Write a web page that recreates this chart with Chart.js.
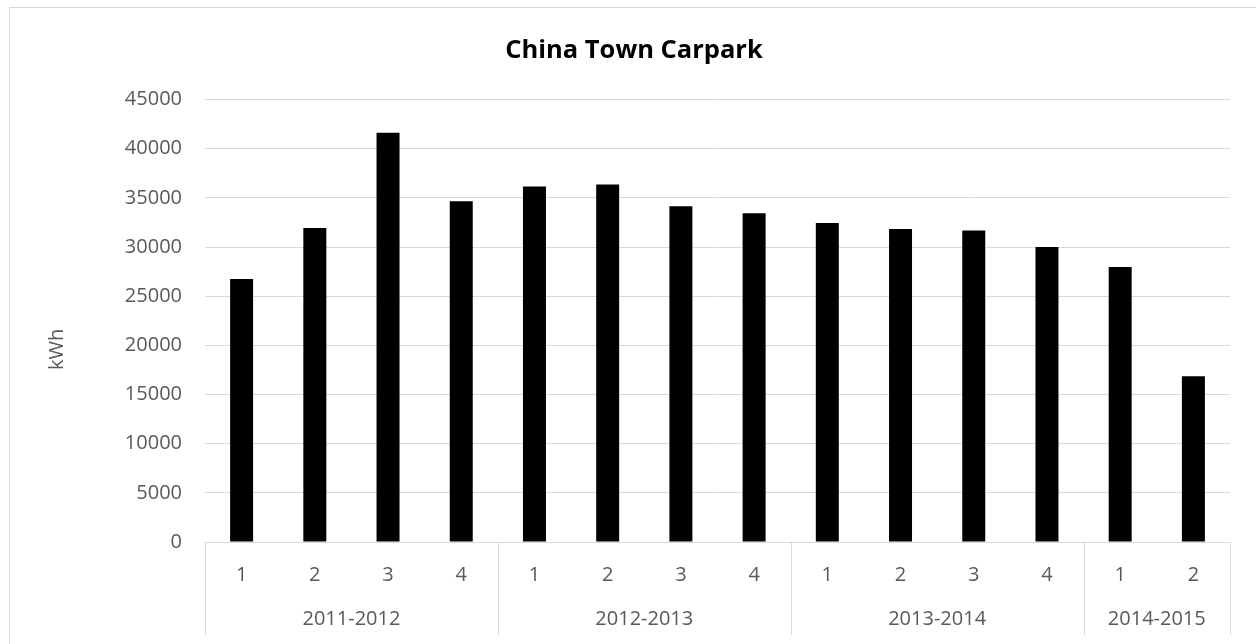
<!DOCTYPE html>
<html>
<head>
<meta charset="utf-8">
<script src="https://cdn.jsdelivr.net/npm/chart.js@4"></script>
<style>
  html, body { margin: 0; padding: 0; background: #fff; overflow: hidden; }
  #marco {
    position: absolute; left: 9px; top: 7px; width: 1400px; height: 800px;
    border-left: 1px solid #d9d9d9; border-top: 1px solid #d9d9d9;
  }
  #grafico { position: absolute; left: 0; top: 0; }
</style>
</head>
<body>
<div id="marco"></div>
<canvas id="grafico" width="1256" height="644"></canvas>
<script>
// Datos
const trimestres = ["1", "2", "3", "4", "1", "2", "3", "4", "1", "2", "3", "4", "1", "2"];
const periodos = ["2011-2012", "2012-2013", "2013-2014", "2014-2015"];
const trimestresPorPeriodo = [4, 4, 4, 2];
const consumoKwh = [26760, 31930, 41620, 34660, 36160, 36360, 34160, 33450, 32440, 31830, 31690, 30000, 27970, 16870];

const gris = "#d9d9d9";
const textoGris = "#595959";
const fuente = "'Open Sans', sans-serif";

// centros de cada periodo en índices de categoría
const centrosPeriodo = [];
let inicio = 0;
trimestresPorPeriodo.forEach((n) => {
  centrosPeriodo.push(inicio + (n - 1) / 2);
  inicio += n;
});

// líneas separadoras entre periodos, debajo del eje
const separadores = {
  id: "separadores",
  afterDraw(chart) {
    const ctx = chart.ctx;
    const x2 = chart.scales.x2;
    const area = chart.chartArea;
    const limites = [-0.5];
    let acc = -0.5;
    trimestresPorPeriodo.forEach((n) => { acc += n; limites.push(acc); });
    ctx.save();
    ctx.strokeStyle = gris;
    ctx.lineWidth = 1;
    limites.forEach((v) => {
      const x = Math.round(x2.getPixelForValue(v)) + 0.5;
      ctx.beginPath();
      ctx.moveTo(x, area.bottom);
      ctx.lineTo(x, x2.bottom);
      ctx.stroke();
    });
    ctx.restore();
  },
};

function crearGrafico() {
  const ctx = document.getElementById("grafico").getContext("2d");
  new Chart(ctx, {
    type: "bar",
    data: {
      labels: trimestres,
      datasets: [
        {
          label: "kWh",
          data: consumoKwh,
          backgroundColor: "#000000",
          categoryPercentage: 1,
          barPercentage: 0.314,
          xAxisID: "x",
        },
      ],
    },
    plugins: [separadores],
    options: {
      responsive: false,
      animation: false,
      layout: { padding: { left: 38, right: 26, top: 0, bottom: 9 } },
      plugins: {
        legend: { display: false },
        tooltip: { enabled: false },
        title: {
          display: true,
          text: "China Town Carpark",
          color: "#000000",
          font: { family: fuente, size: 25.5, weight: "bold", lineHeight: 1.2 },
          padding: { top: 35, bottom: 34 },
        },
      },
      scales: {
        y: {
          min: 0,
          max: 45000,
          ticks: {
            stepSize: 5000,
            color: textoGris,
            font: { family: fuente, size: 20 },
            padding: 23,
            callback: (valor) => String(valor),
          },
          grid: { color: gris, lineWidth: 1, drawTicks: false },
          border: { display: false },
          title: {
            display: true,
            // espacios finales para bajar el rótulo como en el original
            text: "kWh           ",
            color: textoGris,
            font: { family: fuente, size: 20 },
            padding: { top: 7, bottom: 0 },
          },
          afterFit(scale) { scale.width = 167; },
        },
        x: {
          position: "bottom",
          ticks: {
            color: textoGris,
            font: { family: fuente, size: 20 },
            padding: 21,
            maxRotation: 0,
            autoSkip: false,
          },
          grid: { display: false, drawTicks: false },
          border: { display: true, color: gris, width: 1 },
          afterFit(scale) { scale.height = 46; },
        },
        x2: {
          type: "linear",
          position: "bottom",
          offset: false,
          min: -0.5,
          max: trimestres.length - 0.5,
          afterBuildTicks(scale) {
            scale.ticks = centrosPeriodo.map((v) => ({ value: v }));
          },
          ticks: {
            color: textoGris,
            font: { family: fuente, size: 20 },
            padding: 19,
            maxRotation: 0,
            autoSkip: false,
            callback: (valor) => periodos[centrosPeriodo.indexOf(valor)],
          },
          grid: { display: false, drawTicks: false, offset: false },
          border: { display: false },
          afterFit(scale) { scale.height = 47; },
        },
      },
    },
  });
}

document.addEventListener("DOMContentLoaded", () => {
  crearGrafico();
});
</script>
</body>
</html>
